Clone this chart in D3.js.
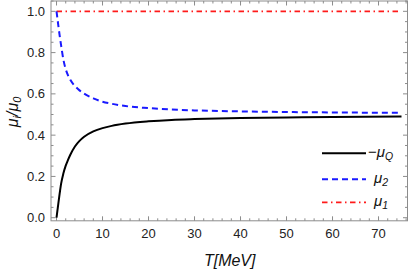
<!DOCTYPE html>
<html>
<head>
<meta charset="utf-8">
<script src="https://cdn.jsdelivr.net/npm/d3@7"></script>
<style>
html,body{margin:0;padding:0;background:#fff;}
svg{display:block;font-family:"Liberation Sans",Arial,sans-serif;}
</style>
</head>
<body>
<svg id="chart" width="409" height="270"></svg>
<script>
// ---- data ----
const tQ = [0, 0.2, 0.4, 0.7, 1.0, 1.5, 2, 2.5, 3, 4, 5, 6, 8, 10, 12, 15, 20, 25, 30, 40, 50, 60, 75];
const muQ = [0, 0.035, 0.07, 0.12, 0.165, 0.215, 0.252, 0.28, 0.305, 0.345, 0.372, 0.392, 0.418, 0.434, 0.445, 0.456, 0.467, 0.474, 0.478, 0.483, 0.486, 0.488, 0.490];
const t2 = [0, 0.2, 0.4, 0.7, 1.0, 1.5, 2, 2.5, 3, 4, 5, 6, 8, 10, 12, 15, 20, 25, 30, 40, 50, 60, 75];
const mu2 = [1.0, 0.965, 0.93, 0.88, 0.835, 0.765, 0.72, 0.69, 0.668, 0.638, 0.617, 0.601, 0.578, 0.562, 0.552, 0.541, 0.531, 0.524, 0.52, 0.515, 0.512, 0.510, 0.508];
const t1 = [0, 75];
const mu1 = [1.0, 1.0];
const xTicks = [0, 10, 20, 30, 40, 50, 60, 70];
const yTicks = [0.0, 0.2, 0.4, 0.6, 0.8, 1.0];
const legendLabels = ["Q", "2", "1"];

const svg = d3.select("#chart");
const L = 51, R = 407.5, T = 1, B = 220.8;
const x = d3.scaleLinear().domain([-1.2, 76.3]).range([L, R]);
const y = d3.scaleLinear().domain([-0.015, 1.05]).range([B, T]);

svg.append("defs").append("clipPath").attr("id", "clip")
  .append("rect").attr("x", L).attr("y", T).attr("width", R - L).attr("height", B - T);

const frameColor = "#8c8c8c";
// frame
svg.append("rect").attr("x", L).attr("y", T).attr("width", R - L).attr("height", B - T)
  .attr("fill", "none").attr("stroke", frameColor).attr("stroke-width", 1);

// ticks
const xMinor = d3.range(0, 77, 2).filter(v => v % 10 !== 0);
const yMinor = d3.range(0, 1.051, 0.05).map(v => +v.toFixed(2)).filter(v => Math.round(v * 100) % 20 !== 0);
const tg = svg.append("g").attr("stroke", frameColor).attr("stroke-width", 1);
function xt(v, len) {
  tg.append("line").attr("x1", x(v)).attr("x2", x(v)).attr("y1", B).attr("y2", B - len);
  tg.append("line").attr("x1", x(v)).attr("x2", x(v)).attr("y1", T).attr("y2", T + len);
}
function yt(v, len) {
  tg.append("line").attr("y1", y(v)).attr("y2", y(v)).attr("x1", L).attr("x2", L + len);
  tg.append("line").attr("y1", y(v)).attr("y2", y(v)).attr("x1", R).attr("x2", R - len);
}
xTicks.forEach(v => xt(v, 4.5));
xMinor.forEach(v => xt(v, 2.5));
yTicks.forEach(v => yt(v, 4.5));
yMinor.forEach(v => yt(v, 2.5));

// tick labels
svg.append("g").selectAll("text").data(xTicks).join("text")
  .attr("x", d => x(d)).attr("y", 238.3).attr("text-anchor", "middle")
  .attr("font-size", 13).attr("fill", "#222").text(d => d);
svg.append("g").selectAll("text").data(yTicks).join("text")
  .attr("x", 45).attr("y", d => y(d) + 4.6).attr("text-anchor", "end")
  .attr("font-size", 13).attr("fill", "#222").text(d => d.toFixed(1));

// axis titles
const xl = svg.append("text").attr("x", 229.7).attr("y", 266).attr("text-anchor", "middle")
  .attr("font-size", 16).attr("font-style", "italic").attr("fill", "#111");
xl.text("T[MeV]");

const yl = svg.append("text").attr("transform", "translate(18,112) rotate(-90)")
  .attr("text-anchor", "middle").attr("font-size", 16).attr("font-style", "italic").attr("fill", "#111");
yl.append("tspan").text("μ");
yl.append("tspan").attr("font-size", 11).attr("dy", 3).text("i");
yl.append("tspan").attr("dy", -3).text("/μ");
yl.append("tspan").attr("font-size", 11).attr("dy", 3).text("0");

// curves
const line = d3.line().x(d => x(d[0])).y(d => y(d[1])).curve(d3.curveMonotoneX);
const g = svg.append("g").attr("clip-path", "url(#clip)");
g.append("path").datum(t1.map((t, i) => [t, mu1[i]])).attr("d", line)
  .attr("fill", "none").attr("stroke", "#ff1a1a").attr("stroke-width", 1.8)
  .attr("stroke-dasharray", "5.5,3.5,1.5,3.5");
g.append("path").datum(t2.map((t, i) => [t, mu2[i]])).attr("d", line)
  .attr("fill", "none").attr("stroke", "#1a1aff").attr("stroke-width", 2)
  .attr("stroke-dasharray", "6,4");
g.append("path").datum(tQ.map((t, i) => [t, muQ[i]])).attr("d", line)
  .attr("fill", "none").attr("stroke", "#000").attr("stroke-width", 2);

// legend
const leg = [
  {y: 153.3, color: "#000", dash: null, w: 2},
  {y: 179.3, color: "#1a1aff", dash: "6,4", w: 2},
  {y: 202.3, color: "#ff1a1a", dash: "5.5,3.5,1.5,3.5", w: 1.8}
];
leg.forEach((d, i) => {
  svg.append("line").attr("x1", 322).attr("x2", 366).attr("y1", d.y).attr("y2", d.y)
    .attr("stroke", d.color).attr("stroke-width", d.w).attr("stroke-dasharray", d.dash);
  const t = svg.append("text").attr("x", i === 0 ? 368 : 374).attr("y", d.y + 4)
    .attr("font-size", 15).attr("fill", "#111");
  if (i === 0) t.append("tspan").text("−");
  t.append("tspan").attr("font-style", "italic").text("μ");
  t.append("tspan").attr("font-style", "italic").attr("font-size", 10.5).attr("dy", 3).text(legendLabels[i]);
});
</script>
</body>
</html>
